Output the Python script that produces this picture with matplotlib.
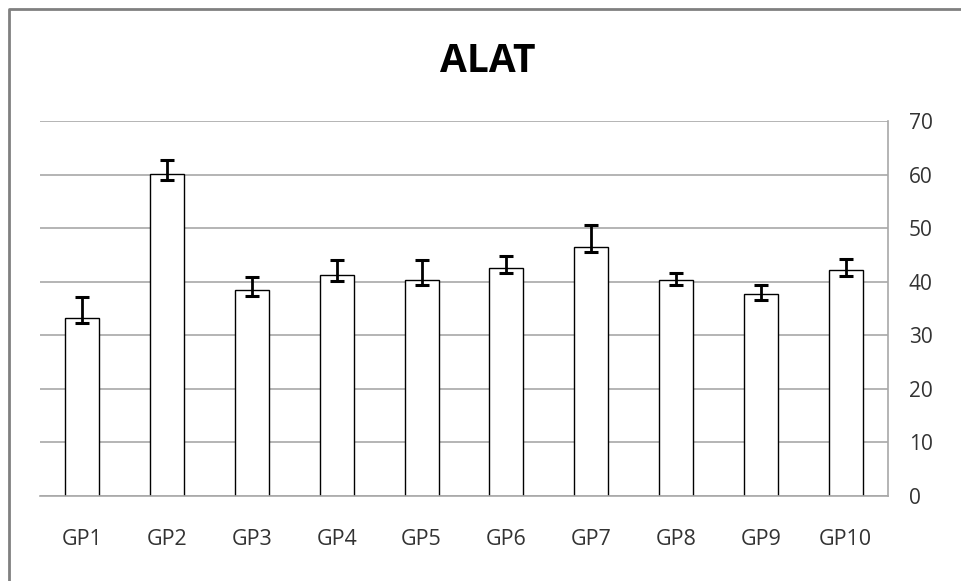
import numpy as np
from matplotlib import pyplot as plt
from matplotlib.lines import Line2D

plt.rcParams['font.family'] = ['Open Sans', 'DejaVu Sans']

groups = ['GP1', 'GP2', 'GP3', 'GP4', 'GP5', 'GP6', 'GP7', 'GP8', 'GP9', 'GP10']
alat = [33.3, 60.1, 38.5, 41.2, 40.4, 42.5, 46.5, 40.4, 37.7, 42.1]
err_low = [1.0, 1.1, 1.2, 1.1, 1.1, 0.9, 1.0, 1.0, 1.1, 1.1]
err_high = [3.9, 2.6, 2.4, 2.9, 3.6, 2.3, 4.1, 1.3, 1.6, 2.2]
yticks = [0, 10, 20, 30, 40, 50, 60, 70]

fig = plt.figure(figsize=(9.61, 5.81), dpi=100)
ax = fig.add_axes([40 / 961, 1 - 496 / 581, 848 / 961, 375 / 581])

x = np.arange(len(groups))
ax.bar(x, alat, width=0.4, color='white', edgecolor='black', linewidth=1.0, zorder=2)
ax.errorbar(x, alat, yerr=[err_low, err_high], fmt='none', ecolor='black',
            elinewidth=2, capsize=4.8, capthick=2.2, zorder=3)

ax.set_xlim(-0.5, len(groups) - 0.5)
ax.set_ylim(0, 70)
ax.set_yticks(yticks)
ax.yaxis.tick_right()
ax.yaxis.grid(True, color='#a8a8a8', linewidth=1.2, zorder=0)
ax.set_axisbelow(True)
ax.tick_params(axis='y', length=0, pad=15, labelsize=15, labelcolor='#333333')
ax.set_xticks(x)
ax.set_xticklabels(groups)
ax.tick_params(axis='x', length=0, pad=24, labelsize=15.5, labelcolor='#333333')

for side in ['left', 'top']:
    ax.spines[side].set_visible(False)
for side in ['right', 'bottom']:
    ax.spines[side].set_color('#a8a8a8')
    ax.spines[side].set_linewidth(1.2)

fig.text(488 / 961, 1 - 61 / 581, 'ALAT', ha='center', va='center',
         fontsize=28, fontweight='bold')

# chart frame: only the left and top edges show in the picture
frame_x = [9 / 961, 9 / 961, 1.0]
frame_y = [0.0, 1 - 9 / 581, 1 - 9 / 581]
fig.lines.append(Line2D(frame_x, frame_y, transform=fig.transFigure,
                        color='#808080', linewidth=2))

fig.savefig('out.png', dpi=100)
